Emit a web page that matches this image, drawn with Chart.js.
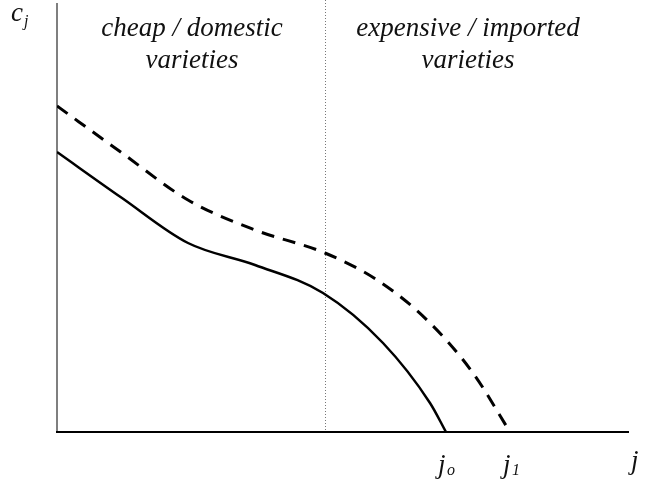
<!DOCTYPE html>
<html>
<head>
<meta charset="utf-8">
<script src="https://cdn.jsdelivr.net/npm/chart.js@4"></script>
<style>
  html, body { margin: 0; padding: 0; background: #fff; }
  #wrap { width: 645px; height: 483px; position: relative; }
</style>
</head>
<body>
<div id="wrap"><canvas id="chart"></canvas></div>
<script>
// Curve data (j on x, c_j on y), abstract units
const solidX = [0, 65, 131, 198, 266, 326, 373, 389];
const solidY = [280, 234, 189, 167, 139, 89, 29, 0];
const dashedX = [0, 65, 131, 198, 268, 320, 370, 416, 453];
const dashedY = [326, 279, 232, 202, 179, 152, 112, 59, 0];

// Marks on the j axis
const dividerJ = 268;
const jLabels = [
    { x: 388, main: 'j', sub: 'o' },
    { x: 453, main: 'j', sub: '1' }
];
const regionLabels = [
    { x: 135, lines: ['cheap / domestic', 'varieties'] },
    { x: 411, lines: ['expensive / imported', 'varieties'] }
];

const xMax = 572;
const yMax = 430;

function toPoints(xs, ys) {
    return xs.map((x, i) => ({ x: x, y: ys[i] }));
}

const FONT = 'italic 27px "Liberation Serif", "DejaVu Serif", serif';
const SUBFONT = 'italic 16px "Liberation Serif", "DejaVu Serif", serif';

// Axes, divider and texts
const decorations = {
    id: 'decorations',
    beforeDatasetsDraw(chart) {
        const ctx = chart.ctx;
        const xs = chart.scales.x, ys = chart.scales.y;
        const x0 = xs.getPixelForValue(0);
        const y0 = ys.getPixelForValue(0);
        ctx.save();

        // dotted divider
        const xd = Math.round(xs.getPixelForValue(dividerJ)) + 0.5;
        ctx.strokeStyle = '#777';
        ctx.lineWidth = 1;
        ctx.setLineDash([1, 2]);
        ctx.beginPath();
        ctx.moveTo(xd, 0);
        ctx.lineTo(xd, y0);
        ctx.stroke();
        ctx.setLineDash([]);

        // y axis
        ctx.strokeStyle = '#555';
        ctx.lineWidth = 1.5;
        ctx.beginPath();
        ctx.moveTo(x0, ys.getPixelForValue(yMax) + 1);
        ctx.lineTo(x0, y0);
        ctx.stroke();

        // x axis
        ctx.strokeStyle = '#000';
        ctx.lineWidth = 2;
        ctx.beginPath();
        ctx.moveTo(x0 - 1, y0);
        ctx.lineTo(xs.getPixelForValue(xMax), y0);
        ctx.stroke();

        ctx.fillStyle = '#111';
        ctx.textBaseline = 'alphabetic';
        ctx.textAlign = 'center';
        ctx.font = FONT;
        regionLabels.forEach(r => {
            const px = xs.getPixelForValue(r.x);
            ctx.fillText(r.lines[0], px, 36);
            ctx.fillText(r.lines[1], px, 68);
        });

        // c_j
        ctx.textAlign = 'left';
        ctx.font = FONT;
        ctx.fillText('c', 11, 21);
        ctx.font = SUBFONT;
        ctx.fillText('j', 24, 26);

        // j axis label
        ctx.font = FONT;
        ctx.fillText('j', 631, 469);

        jLabels.forEach(l => {
            const px = xs.getPixelForValue(l.x);
            ctx.font = FONT;
            ctx.fillText(l.main, px - 7, 473);
            ctx.font = SUBFONT;
            ctx.fillText(l.sub, px + 2, 475);
        });
        ctx.restore();
    }
};

new Chart(document.getElementById('chart'), {
    type: 'line',
    data: {
        datasets: [
            {
                label: 'dashed',
                data: toPoints(dashedX, dashedY),
                borderColor: '#000',
                borderWidth: 3,
                borderDash: [13, 9],
                pointRadius: 0,
                cubicInterpolationMode: 'monotone',
                fill: false
            },
            {
                label: 'solid',
                data: toPoints(solidX, solidY),
                borderColor: '#000',
                borderWidth: 2.5,
                pointRadius: 0,
                cubicInterpolationMode: 'monotone',
                fill: false
            }
        ]
    },
    options: {
        responsive: true,
        maintainAspectRatio: false,
        animation: false,
        layout: { padding: { left: 57, right: 16, top: 2, bottom: 51 } },
        plugins: {
            legend: { display: false },
            tooltip: { enabled: false }
        },
        scales: {
            x: { type: 'linear', display: false, min: 0, max: xMax },
            y: { type: 'linear', display: false, min: 0, max: yMax }
        }
    },
    plugins: [decorations]
});
</script>
</body>
</html>
